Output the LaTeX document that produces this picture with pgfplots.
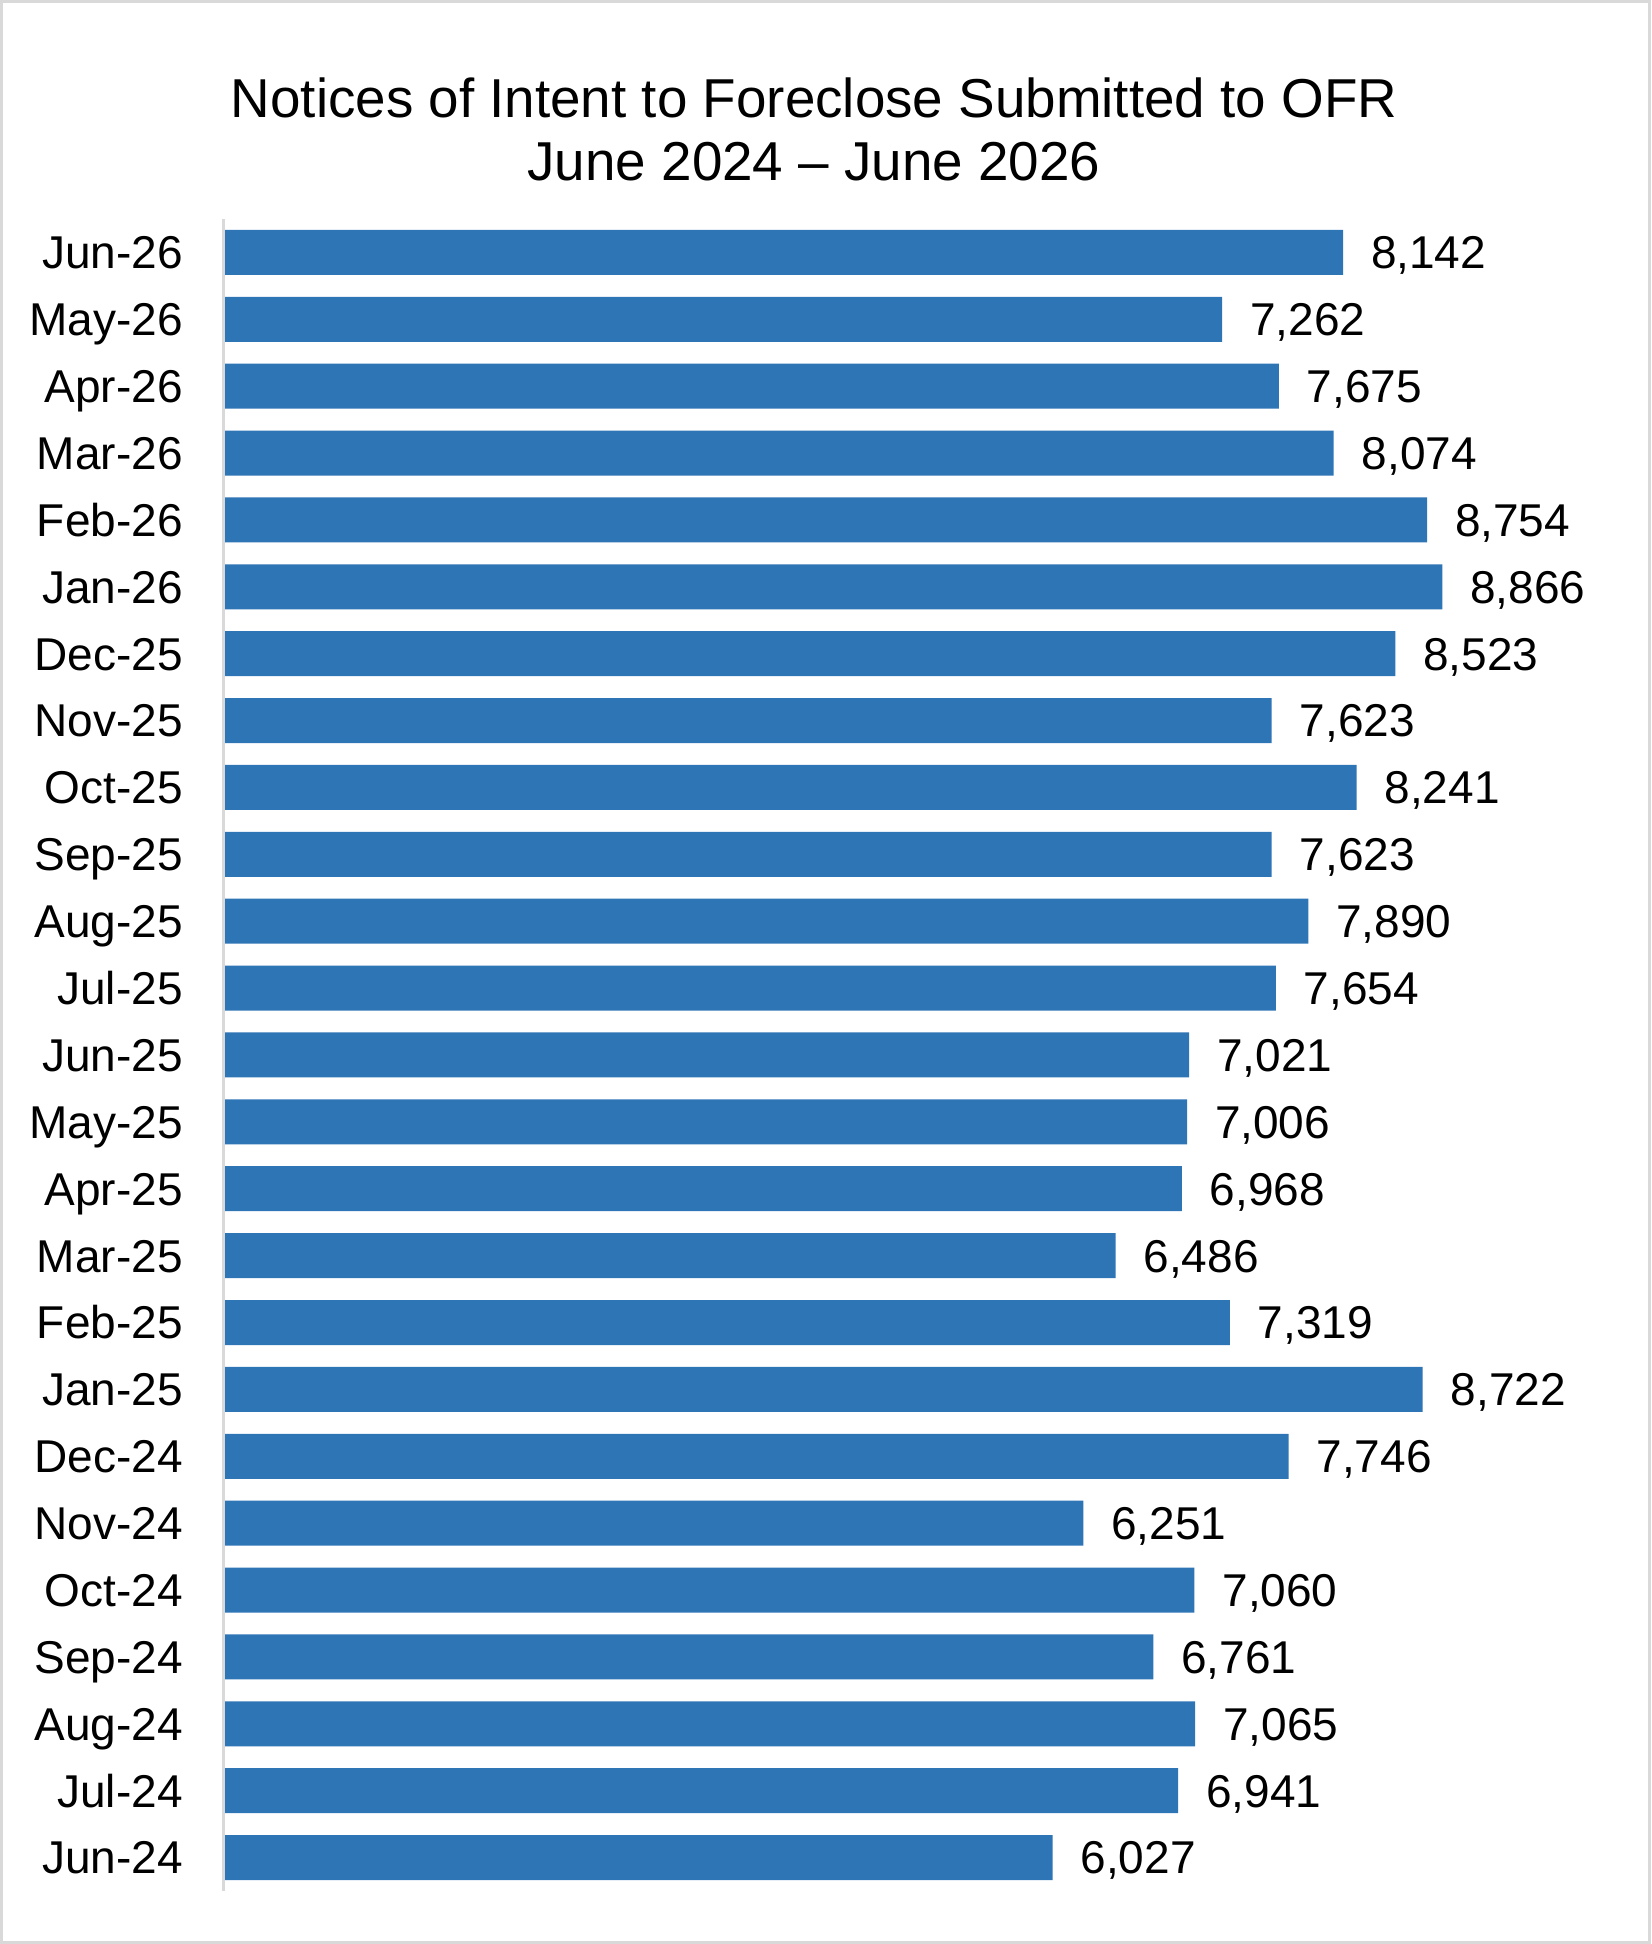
\documentclass[border=0pt]{standalone}
\usepackage{fontspec}
\setmainfont{Liberation Sans}
\usepackage{pgfplots}
\pgfplotsset{compat=1.18}
\definecolor{barblue}{RGB}{46,117,182}
\definecolor{lgray}{RGB}{217,217,217}
\begin{document}
\begin{tikzpicture}
\draw[lgray, line width=0.75pt] (0.375pt,0.375pt) rectangle (412.375pt,485.625pt);
\node[anchor=base, inner sep=0pt, font=\fontsize{13.7}{16}\selectfont] at (203.5pt,456.5pt) {Notices of Intent to Foreclose Submitted to OFR};
\node[anchor=base, inner sep=0pt, font=\fontsize{13.7}{16}\selectfont] at (203.5pt,440.75pt) {June 2024 – June 2026};
\begin{axis}[
  at={(55.875pt,13.25pt)}, anchor=south west,
  scale only axis, width=343.65pt, height=418pt,
  xbar, bar width=11.25pt, bar shift=0pt,
  xmin=-11, xmax=10000, ymin=-0.5, ymax=24.5,
  axis x line=none, axis y line*=left,
  y axis line style={lgray, line width=0.75pt},
  ytick={0,...,24},
  yticklabels={Jun-24,Jul-24,Aug-24,Sep-24,Oct-24,Nov-24,Dec-24,Jan-25,Feb-25,Mar-25,Apr-25,May-25,Jun-25,Jul-25,Aug-25,Sep-25,Oct-25,Nov-25,Dec-25,Jan-26,Feb-26,Mar-26,Apr-26,May-26,Jun-26},
  major tick length=0pt, ytick style={draw=none},
  yticklabel style={font=\fontsize{11.5}{13}\selectfont, inner sep=0pt, anchor=base east, xshift=-10pt, yshift=-4.1pt},
  point meta=x,
  nodes near coords={\pgfmathprintnumber[fixed,precision=0,1000 sep={,},assume math mode=true]{\pgfplotspointmeta}},
  nodes near coords style={font=\fontsize{11.5}{13}\selectfont, anchor=base west, inner sep=0pt, xshift=6.8pt, yshift=-4.1pt, text=black},
  clip=false,
]
\addplot[fill=barblue, draw=none] coordinates {
(6027,0) (6941,1) (7065,2) (6761,3) (7060,4) (6251,5) (7746,6) (8722,7) (7319,8) (6486,9)
(6968,10) (7006,11) (7021,12) (7654,13) (7890,14) (7623,15) (8241,16) (7623,17) (8523,18)
(8866,19) (8754,20) (8074,21) (7675,22) (7262,23) (8142,24)
};
\end{axis}
\end{tikzpicture}
\end{document}
